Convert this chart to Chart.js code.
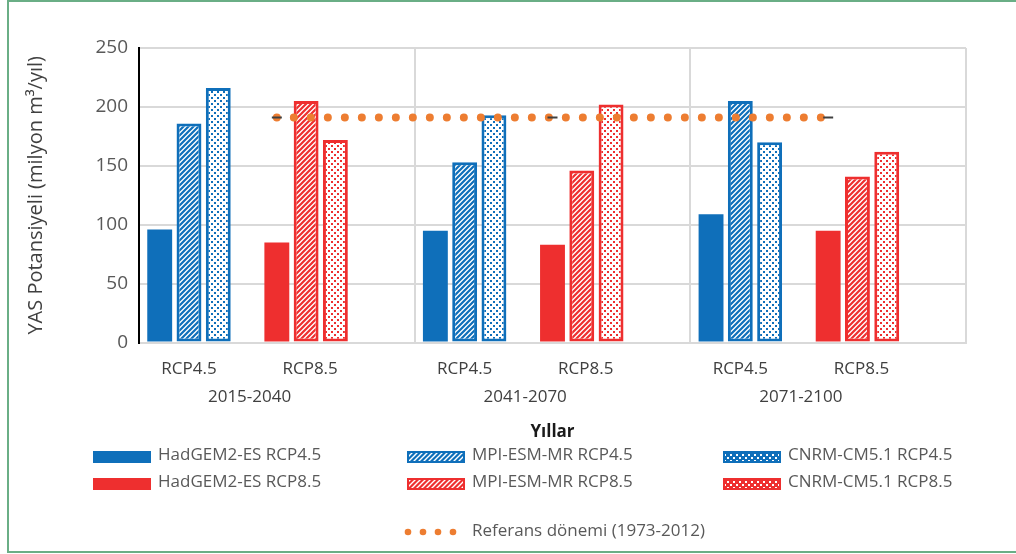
<!DOCTYPE html>
<html>
<head>
<meta charset="utf-8">
<script src="https://cdn.jsdelivr.net/npm/chart.js@4.4.1/dist/chart.umd.min.js"></script>
<style>
  html, body { margin: 0; padding: 0; background: #fff; }
  #wrap { position: relative; width: 1016px; height: 554px; overflow: hidden; }
  #frame { position: absolute; left: 7px; top: 0; width: 1030px; height: 549px;
           border: 2px solid #6aae86; border-right: none; pointer-events: none; }
</style>
</head>
<body>
<div id="wrap">
  <canvas id="yasChart" width="1016" height="554"></canvas>
  <div id="frame"></div>
</div>
<script>
var periods = ['2015-2040', '2041-2070', '2071-2100'];
var scenarios = ['RCP4.5', 'RCP8.5'];

var hadgem45 = [96, 95, 109];
var mpi45 = [186, 153, 205];
var cnrm45 = [216, 193, 170];
var hadgem85 = [85, 83, 95];
var mpi85 = [205, 146, 141];
var cnrm85 = [172, 202, 162];
var referans = [191, 191, 191];

var blue = '#0f6fba';
var red = '#ee2f2f';
var orange = '#ed7d31';

// little canvas tiles for the hatch / dot fills
function tile(size, bg, draw) {
    var c = document.createElement('canvas');
    c.width = size;
    c.height = size;
    var g = c.getContext('2d');
    g.fillStyle = bg;
    g.fillRect(0, 0, size, size);
    draw(g);
    return document.createElement('canvas').getContext('2d').createPattern(c, 'repeat');
}
function hatch(fg, bg, w) {
    return tile(5, bg, function (g) {
        g.strokeStyle = fg;
        g.lineWidth = w;
        g.beginPath();
        [0, 5, 10].forEach(function (k) {
            g.moveTo(k + 1, -1);
            g.lineTo(k - 6, 6);
        });
        g.stroke();
    });
}
function dots(fg, bg) {
    return tile(6, bg, function (g) {
        g.fillStyle = fg;
        g.fillRect(1, 1, 2, 2);
        g.fillRect(4, 4, 2, 2);
    });
}

var spacer = periods.map(function () { return null; });

function barSet(label, data, color, kind, slot) {
    var ds = {
        type: 'bar',
        label: label,
        data: data,
        order: 1,
        backgroundColor: color,
        borderColor: color,
        borderWidth: 0,
        borderSkipped: false,
        legendSlot: slot,
        swatch: color
    };
    if (kind === 'hatch') {
        ds.backgroundColor = hatch(color, '#ffffff', 2.2);
        ds.swatch = hatch('#ffffff', color, 1.4);
        ds.borderWidth = 3;
    } else if (kind === 'dots') {
        ds.backgroundColor = dots(color, '#ffffff');
        ds.swatch = dots('#ffffff', color);
        ds.borderWidth = 3;
    }
    return ds;
}
function gap() {
    return { type: 'bar', label: '', data: spacer, order: 1 };
}

// draws the two level category labels under the bars
var xLabels = {
    id: 'xLabels',
    afterDraw: function (chart) {
        var ctx = chart.ctx;
        var top = chart.scales.x.top;
        var b45 = chart.getDatasetMeta(1).data;
        var b85 = chart.getDatasetMeta(5).data;
        ctx.save();
        ctx.font = '17px "Open Sans"';
        ctx.fillStyle = '#404040';
        ctx.textAlign = 'center';
        ctx.textBaseline = 'middle';
        periods.forEach(function (p, i) {
            var x1 = b45[i].x;
            var x2 = b85[i].x + 4;
            ctx.fillText(scenarios[0], x1, top + 27);
            ctx.fillText(scenarios[1], x2, top + 27);
            ctx.fillText(p, (x1 + x2) / 2, top + 55);
        });
        ctx.restore();
    }
};

// legend laid out as in the original: 3 columns, reference entry below
var gridLegend = {
    id: 'gridLegend',
    afterDraw: function (chart) {
        var ctx = chart.ctx;
        var cols = [93, 407, 723];
        var rows = [455, 482, 531];
        ctx.save();
        ctx.font = '17px "Open Sans"';
        ctx.textAlign = 'left';
        ctx.textBaseline = 'middle';
        chart.data.datasets.forEach(function (ds) {
            if (ds.legendSlot === undefined) return;
            var x = cols[ds.legendSlot % 3];
            var y = rows[Math.floor(ds.legendSlot / 3)];
            if (ds.type === 'line') {
                ctx.fillStyle = orange;
                for (var k = 0; k < 4; k++) {
                    ctx.beginPath();
                    ctx.arc(x + 1 + k * 15, y + 1, 3.3, 0, Math.PI * 2);
                    ctx.fill();
                }
            } else {
                ctx.fillStyle = ds.swatch;
                ctx.fillRect(x, y - 4, 58, 12);
                if (ds.borderWidth) {
                    ctx.strokeStyle = ds.borderColor;
                    ctx.lineWidth = 2;
                    ctx.strokeRect(x + 1, y - 3, 56, 10);
                }
            }
            ctx.fillStyle = '#595959';
            ctx.fillText(ds.label, x + 65, y);
        });
        ctx.restore();
    }
};

var ctx = document.getElementById('yasChart').getContext('2d');

var yasChart = new Chart(ctx, {
    data: {
        labels: periods,
        datasets: [
            barSet('HadGEM2-ES RCP4.5', hadgem45, blue, 'solid', 0),
            barSet('MPI-ESM-MR RCP4.5', mpi45, blue, 'hatch', 1),
            barSet('CNRM-CM5.1 RCP4.5', cnrm45, blue, 'dots', 2),
            gap(),
            barSet('HadGEM2-ES RCP8.5', hadgem85, red, 'solid', 3),
            barSet('MPI-ESM-MR RCP8.5', mpi85, red, 'hatch', 4),
            barSet('CNRM-CM5.1 RCP8.5', cnrm85, red, 'dots', 5),
            gap(),
            gap(),
            {
                type: 'line',
                label: 'Referans dönemi (1973-2012)',
                data: referans,
                order: 0,
                legendSlot: 7,
                borderColor: orange,
                borderWidth: 8,
                borderDash: [0, 17],
                borderCapStyle: 'round',
                fill: false,
                pointStyle: 'line',
                pointRadius: 5,
                pointBorderColor: '#404040',
                pointBorderWidth: 2,
                pointBackgroundColor: '#404040'
            }
        ]
    },
    options: {
        responsive: false,
        animation: false,
        datasets: {
            bar: {
                categoryPercentage: 0.956,
                barPercentage: 0.85
            }
        },
        layout: {
            padding: { left: 10, right: 50, top: 48, bottom: 112 }
        },
        scales: {
            x: {
                type: 'category',
                offset: true,
                grid: {
                    color: function (c) { return c.index === 0 ? 'rgba(0,0,0,0)' : '#d9d9d9'; },
                    lineWidth: 2,
                    drawTicks: false
                },
                border: { color: '#d9d9d9', width: 2 },
                ticks: { display: false },
                title: {
                    display: true,
                    text: 'Yıllar',
                    color: '#1a1a1a',
                    font: { family: 'Open Sans', size: 17, weight: 'bold' },
                    padding: { top: 79, bottom: 0 }
                }
            },
            y: {
                min: 0,
                max: 250,
                ticks: {
                    stepSize: 50,
                    color: '#595959',
                    padding: 11,
                    font: { family: 'Open Sans', size: 19 }
                },
                grid: { color: '#d9d9d9', lineWidth: 2, drawTicks: false },
                border: { color: '#000000', width: 2 },
                title: {
                    display: true,
                    text: 'YAS Potansiyeli (milyon m³/yıl)',
                    color: '#404040',
                    font: { family: 'Open Sans', size: 20 },
                    padding: { top: 14, bottom: 0 }
                },
                afterFit: function (scale) {
                    scale.width = 129;
                }
            }
        },
        plugins: {
            legend: { display: false },
            tooltip: { enabled: false }
        }
    },
    plugins: [xLabels, gridLegend]
});
</script>
</body>
</html>
